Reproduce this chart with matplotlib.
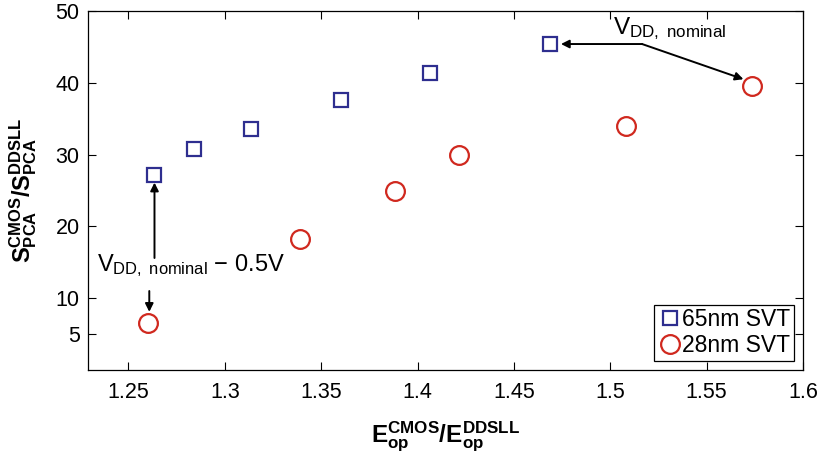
import numpy as np
import matplotlib
matplotlib.use('Agg')
import matplotlib.pyplot as plt

plt.rcParams['font.family'] = ['Liberation Sans', 'DejaVu Sans']
plt.rcParams['mathtext.fontset'] = 'custom'
plt.rcParams['mathtext.rm'] = 'Liberation Sans'
plt.rcParams['mathtext.it'] = 'Liberation Sans'
plt.rcParams['mathtext.bf'] = 'Liberation Sans:bold'

# data
e_65 = [1.2635, 1.2842, 1.3138, 1.3605, 1.4066, 1.4689]
s_65 = [27.2, 30.8, 33.5, 37.6, 41.4, 45.4]
e_28 = [1.2603, 1.3392, 1.3885, 1.4217, 1.5083, 1.5736]
s_28 = [6.6, 18.3, 24.9, 30.0, 34.0, 39.6]

xticks = [1.25, 1.3, 1.35, 1.4, 1.45, 1.5, 1.55, 1.6]
yticks = [5, 10, 20, 30, 40, 50]

col_65 = '#2e2e8f'
col_28 = '#d0281e'

fig = plt.figure(figsize=(8.22, 4.57), dpi=100)
ax = fig.add_axes([88/822, 1 - 370/457, (803-88)/822, (370-11)/457])

ax.plot(e_65, s_65, 's', ms=10.5, mfc='none', mec=col_65, mew=1.6, ls='none',
        label='65nm SVT')
ax.plot(e_28, s_28, 'o', ms=13.5, mfc='none', mec=col_28, mew=1.6, ls='none',
        label='28nm SVT')

ax.set_xlim(1.229, 1.6)
ax.set_ylim(0, 50)
ax.set_xticks(xticks)
ax.set_xticklabels(['1.25', '1.3', '1.35', '1.4', '1.45', '1.5', '1.55', '1.6'])
ax.set_yticks(yticks)
ax.tick_params(labelsize=15.5, direction='in', length=6, width=0.8,
               top=True, right=True)
ax.tick_params(axis='x', pad=9)
ax.tick_params(axis='y', pad=6)
for s in ax.spines.values():
    s.set_linewidth(0.9)

ax.set_xlabel(r'$\mathbf{E_{op}^{CMOS}/E_{op}^{DDSLL}}$', fontsize=17.5, labelpad=12)
ax.set_ylabel(r'$\mathbf{S_{PCA}^{CMOS}/S_{PCA}^{DDSLL}}$', fontsize=17, labelpad=12)

# annotations
arr = dict(arrowstyle='-|>', color='black', lw=1.4, mutation_scale=12,
           shrinkA=0, shrinkB=0)
ax.annotate('', xy=(e_65[0], s_65[0] - 1.1), xytext=(e_65[0], 15.6),
            arrowprops=arr)
ax.annotate('', xy=(e_28[0] + 0.0005, s_28[0] + 1.5), xytext=(e_28[0] + 0.0005, 11.0),
            arrowprops=arr)
ax.text(1.2335, 14.6, r'V$_{\mathrm{DD,\ nominal}}$ $-$ 0.5V', fontsize=17,
        va='center', ha='left')

ax.annotate('', xy=(e_65[-1] + 0.0055, s_65[-1]), xytext=(1.5165, s_65[-1]),
            arrowprops=arr)
ax.annotate('', xy=(e_28[-1] - 0.0045, s_28[-1] + 0.9), xytext=(1.5165, s_65[-1]),
            arrowprops=arr)
ax.text(1.5015, 47.6, r'V$_{\mathrm{DD,\ nominal}}$', fontsize=17.5,
        va='center', ha='left')

leg = ax.legend(loc='lower right', fontsize=16.5, handletextpad=0.0,
                handlelength=1.1, borderpad=0.15, labelspacing=0.15,
                fancybox=False, framealpha=1, borderaxespad=0.4)
leg.get_frame().set_edgecolor('black')
leg.get_frame().set_linewidth(0.9)

fig.savefig('out.png', dpi=100)
